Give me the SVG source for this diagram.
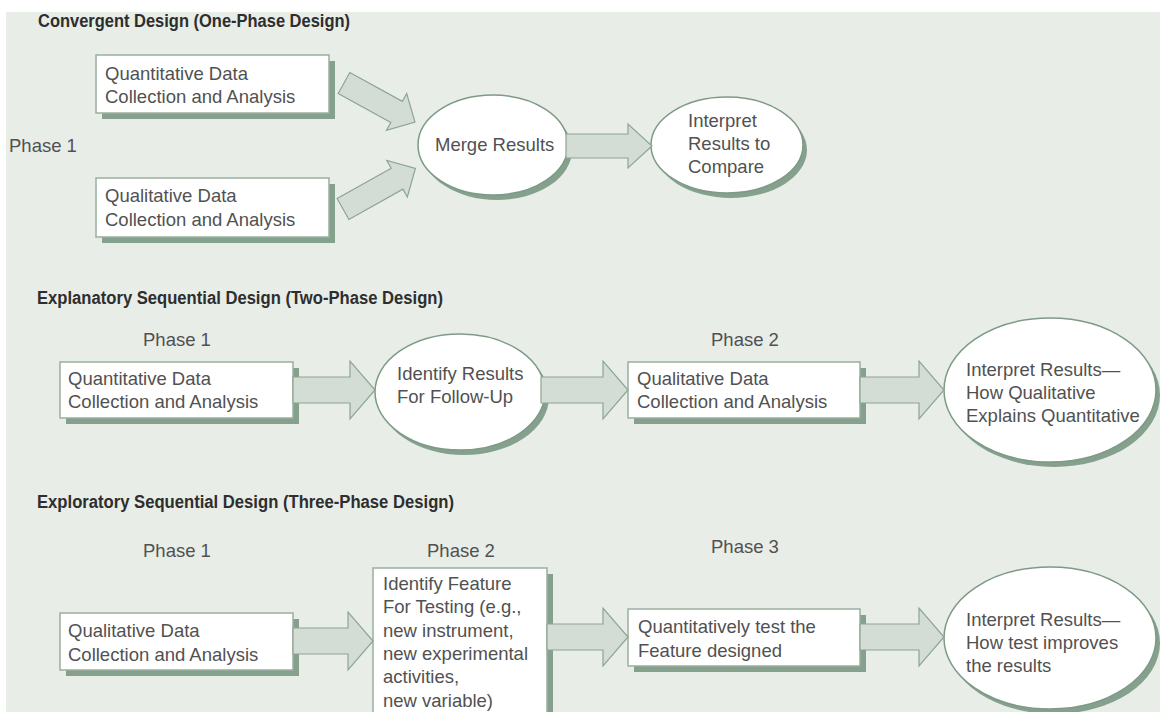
<svg xmlns="http://www.w3.org/2000/svg" width="1160" height="712" viewBox="0 0 1160 712">
<style>
.bg{fill:#e8ede8}
.box{fill:#ffffff;stroke:#9aaf9f;stroke-width:1.5}
.sh{fill:#86a08e}
.ell{fill:#ffffff;stroke:#7e9a86;stroke-width:1.5}
.arr{fill:#d3ddd5;stroke:#8da592;stroke-width:1.2;stroke-linejoin:miter}
.t{font-family:"Liberation Sans",Arial,sans-serif;font-size:18.5px;fill:#515151}
.h{font-family:"Liberation Sans",Arial,sans-serif;font-size:18px;font-weight:bold;fill:#2e2e2e}
</style>
<rect width="1160" height="712" fill="#ffffff"/>
<rect class="bg" x="6" y="12" width="1154" height="700"/>

<!-- Section titles and phase labels -->
<text class="h" x="38" y="27" textLength="312" lengthAdjust="spacingAndGlyphs">Convergent Design (One-Phase Design)</text>
<text class="t" x="9" y="152">Phase 1</text>
<text class="h" x="37" y="304" textLength="406" lengthAdjust="spacingAndGlyphs">Explanatory Sequential Design (Two-Phase Design)</text>
<text class="t" x="143" y="346">Phase 1</text>
<text class="t" x="711" y="346">Phase 2</text>
<text class="h" x="37" y="508" textLength="417" lengthAdjust="spacingAndGlyphs">Exploratory Sequential Design (Three-Phase Design)</text>
<text class="t" x="143" y="557">Phase 1</text>
<text class="t" x="427" y="557">Phase 2</text>
<text class="t" x="711" y="553">Phase 3</text>

<!-- Section 1 nodes -->
<g id="s1-quant">
<rect class="sh" x="102" y="61" width="233" height="58"/>
<rect class="box" x="96" y="55" width="233" height="58"/>
<text class="t" x="105" y="80">Quantitative Data</text>
<text class="t" x="105" y="103">Collection and Analysis</text>
</g>
<g id="s1-qual">
<rect class="sh" x="102" y="184" width="233" height="59"/>
<rect class="box" x="96" y="178" width="233" height="59"/>
<text class="t" x="105" y="202">Qualitative Data</text>
<text class="t" x="105" y="226">Collection and Analysis</text>
</g>
<g id="s1-merge">
<ellipse class="sh" cx="497" cy="150" rx="75" ry="50"/>
<ellipse class="ell" cx="493" cy="145" rx="75" ry="50"/>
<text class="t" x="435" y="151">Merge Results</text>
</g>
<g id="s1-interpret">
<ellipse class="sh" cx="731" cy="150" rx="76" ry="48"/>
<ellipse class="ell" cx="727" cy="145" rx="76" ry="48"/>
<text class="t" x="688" y="127">Interpret</text>
<text class="t" x="688" y="150">Results to</text>
<text class="t" x="688" y="173">Compare</text>
</g>

<!-- Section 2 nodes -->
<g id="s2-quant">
<rect class="sh" x="66" y="368" width="233" height="56"/>
<rect class="box" x="60" y="362" width="233" height="56"/>
<text class="t" x="68" y="385">Quantitative Data</text>
<text class="t" x="68" y="408">Collection and Analysis</text>
</g>
<g id="s2-identify">
<ellipse class="sh" cx="464" cy="397" rx="85" ry="58"/>
<ellipse class="ell" cx="460" cy="392" rx="85" ry="58"/>
<text class="t" x="397" y="380">Identify Results</text>
<text class="t" x="397" y="403">For Follow-Up</text>
</g>
<g id="s2-qual">
<rect class="sh" x="634" y="368" width="232" height="56"/>
<rect class="box" x="628" y="362" width="232" height="56"/>
<text class="t" x="637" y="385">Qualitative Data</text>
<text class="t" x="637" y="408">Collection and Analysis</text>
</g>
<g id="s2-interpret">
<ellipse class="sh" cx="1054" cy="395" rx="106" ry="72"/>
<ellipse class="ell" cx="1050" cy="390" rx="106" ry="72"/>
<text class="t" x="966" y="376">Interpret Results—</text>
<text class="t" x="966" y="399">How Qualitative</text>
<text class="t" x="966" y="422">Explains Quantitative</text>
</g>

<!-- Section 3 nodes -->
<g id="s3-qual">
<rect class="sh" x="66" y="619" width="233" height="57"/>
<rect class="box" x="60" y="613" width="233" height="57"/>
<text class="t" x="68" y="637">Qualitative Data</text>
<text class="t" x="68" y="661">Collection and Analysis</text>
</g>
<g id="s3-feature">
<rect class="sh" x="379" y="574" width="174" height="150"/>
<rect class="box" x="373" y="568" width="174" height="150"/>
<text class="t" x="383" y="590">Identify Feature</text>
<text class="t" x="383" y="613">For Testing (e.g.,</text>
<text class="t" x="383" y="637">new instrument,</text>
<text class="t" x="383" y="660">new experimental</text>
<text class="t" x="383" y="683">activities,</text>
<text class="t" x="383" y="707">new variable)</text>
</g>
<g id="s3-test">
<rect class="sh" x="634" y="615" width="232" height="57"/>
<rect class="box" x="628" y="609" width="232" height="57"/>
<text class="t" x="638" y="633">Quantitatively test the</text>
<text class="t" x="638" y="657">Feature designed</text>
</g>
<g id="s3-interpret">
<ellipse class="sh" cx="1054" cy="643" rx="106" ry="71"/>
<ellipse class="ell" cx="1050" cy="638" rx="106" ry="71"/>
<text class="t" x="966" y="626">Interpret Results—</text>
<text class="t" x="966" y="649">How test improves</text>
<text class="t" x="966" y="672">the results</text>
</g>

<!-- Connectors -->
<g id="connectors">
<polygon class="arr" transform="translate(344,83) rotate(28.8)" points="0,-12 60,-12 60,-21 81,0 60,21 60,12 0,12"/>
<polygon class="arr" transform="translate(343,209) rotate(-29.3)" points="0,-12 62,-12 62,-21 83,0 62,21 62,12 0,12"/>
<polygon class="arr" points="566,134 628,134 628,124 652,146 628,168 628,158 566,158"/>

<polygon class="arr" points="293,377 350,377 350,361 375,390 350,419 350,403 293,403"/>
<polygon class="arr" points="541,377 603,377 603,361 628,390 603,419 603,403 541,403"/>
<polygon class="arr" points="860,377 919,377 919,361 944,390 919,419 919,403 860,403"/>

<polygon class="arr" points="293,628 348,628 348,612 373,641 348,670 348,654 293,654"/>
<polygon class="arr" points="547,624 603,624 603,608 628,637 603,666 603,650 547,650"/>
<polygon class="arr" points="860,624 919,624 919,608 944,637 919,666 919,650 860,650"/>
</g>
</svg>
